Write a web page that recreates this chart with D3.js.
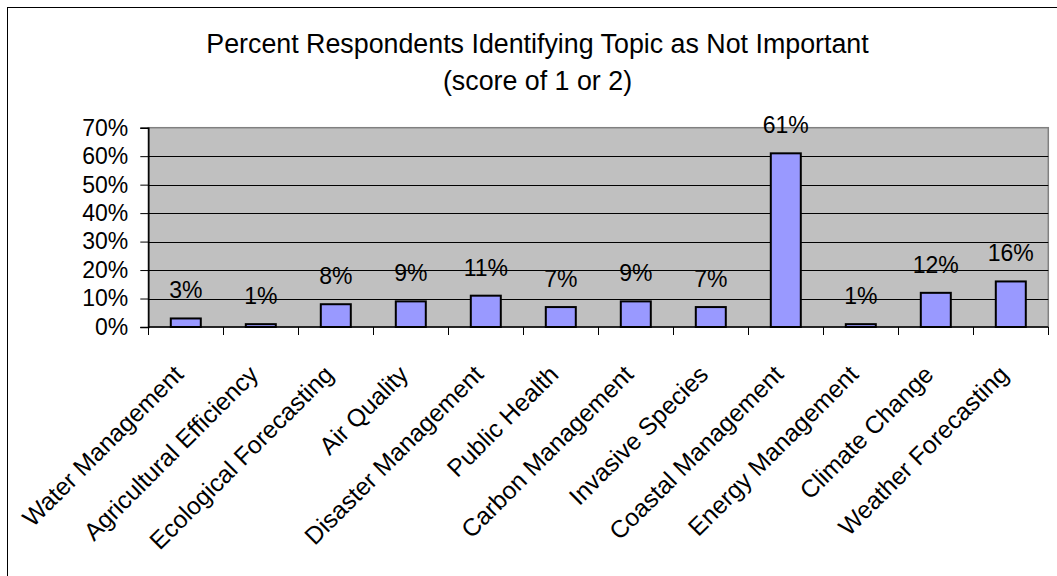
<!DOCTYPE html>
<html>
<head>
<meta charset="utf-8">
<script src="https://cdn.jsdelivr.net/npm/d3@7"></script>
<style>
  html, body { margin: 0; padding: 0; background: #ffffff; }
  svg { display: block; }
  text { font-family: "Liberation Sans", Arial, sans-serif; fill: #000; }
</style>
</head>
<body>
<svg id="chart" width="1057" height="576"></svg>
<script>
// Survey topics and share of respondents scoring each as not important (1 or 2)
const categories = [
  "Water Management", "Agricultural Efficiency", "Ecological Forecasting",
  "Air Quality", "Disaster Management", "Public Health", "Carbon Management",
  "Invasive Species", "Coastal Management", "Energy Management",
  "Climate Change", "Weather Forecasting"
];
const values = [0.03, 0.01, 0.08, 0.09, 0.11, 0.07, 0.09, 0.07, 0.61, 0.01, 0.12, 0.16];
const yTicks = [0, 0.1, 0.2, 0.3, 0.4, 0.5, 0.6, 0.7];
const titleLines = ["Percent Respondents Identifying Topic as Not Important", "(score of 1 or 2)"];

const svg = d3.select("#chart");
const W = 1057, H = 576;
const plot = { left: 148.3, right: 1048.3, top: 127.7, bottom: 327 };

// Chart frame (extends past the canvas on the right and bottom)
svg.append("rect")
  .attr("x", 7.5).attr("y", 7.5)
  .attr("width", W + 10).attr("height", H + 10)
  .attr("fill", "#fff").attr("stroke", "#000").attr("stroke-width", 1);

// Title
const titleCx = 537.5;
svg.append("g").selectAll("text").data(titleLines).join("text")
  .attr("x", titleCx)
  .attr("y", (d, i) => 53 + i * 37)
  .attr("text-anchor", "middle")
  .attr("font-size", 26.8)
  .text(d => d);

const x = d3.scaleBand().domain(categories).range([plot.left, plot.right]).paddingInner(0).paddingOuter(0);
const y = d3.scaleLinear().domain([0, 0.7]).range([plot.bottom, plot.top]);

// Plot area
svg.append("rect")
  .attr("x", plot.left).attr("y", plot.top)
  .attr("width", plot.right - plot.left).attr("height", plot.bottom - plot.top)
  .attr("fill", "#C0C0C0").attr("stroke", "#808080").attr("stroke-width", 1.5);

// Horizontal gridlines
svg.append("g").selectAll("line").data(yTicks.filter(t => t > 0 && t < 0.7)).join("line")
  .attr("x1", plot.left).attr("x2", plot.right)
  .attr("y1", d => Math.round(y(d)) + 0.5).attr("y2", d => Math.round(y(d)) + 0.5)
  .attr("stroke", "#000").attr("stroke-width", 1);

// Bars
const barW = x.bandwidth() * 0.4;
svg.append("g").selectAll("rect").data(values).join("rect")
  .attr("x", (d, i) => x(categories[i]) + (x.bandwidth() - barW) / 2)
  .attr("y", d => y(d))
  .attr("width", barW)
  .attr("height", d => y(0) - y(d))
  .attr("fill", "#9999FF")
  .attr("stroke", "#000").attr("stroke-width", 2);

// Value labels
svg.append("g").selectAll("text").data(values).join("text")
  .attr("x", (d, i) => x(categories[i]) + x.bandwidth() / 2)
  .attr("y", d => y(d) - 20)
  .attr("text-anchor", "middle")
  .attr("font-size", 23)
  .text(d => d3.format(".0%")(d));

// Y axis
const yAxis = d3.axisLeft(y).tickValues(yTicks).tickFormat(d3.format(".0%"))
  .tickSize(8).tickPadding(12);
const gy = svg.append("g").attr("transform", `translate(${plot.left},0)`).call(yAxis);
gy.select(".domain").attr("stroke", "#000").attr("stroke-width", 1.5);
gy.selectAll(".tick line").attr("stroke", "#000");
gy.selectAll(".tick text").attr("font-size", 23)
  .attr("font-family", '"Liberation Sans", Arial, sans-serif').attr("fill", "#000");

// X axis line and category boundary ticks
svg.append("line")
  .attr("x1", plot.left).attr("x2", plot.right)
  .attr("y1", plot.bottom).attr("y2", plot.bottom)
  .attr("stroke", "#000").attr("stroke-width", 1.5);
const bounds = categories.map(c => x(c)).concat([plot.right]);
svg.append("g").selectAll("line").data(bounds).join("line")
  .attr("x1", d => Math.round(d) + 0.5).attr("x2", d => Math.round(d) + 0.5)
  .attr("y1", plot.bottom).attr("y2", plot.bottom + 8)
  .attr("stroke", "#000").attr("stroke-width", 1);

// Category labels, rotated 45 degrees
svg.append("g").selectAll("text").data(categories).join("text")
  .attr("transform", d => `translate(${x(d) + x.bandwidth() / 2 - 7},370) rotate(-45)`)
  .attr("text-anchor", "end")
  .attr("dominant-baseline", "central")
  .attr("font-size", 24.6)
  .text(d => d);
</script>
</body>
</html>
